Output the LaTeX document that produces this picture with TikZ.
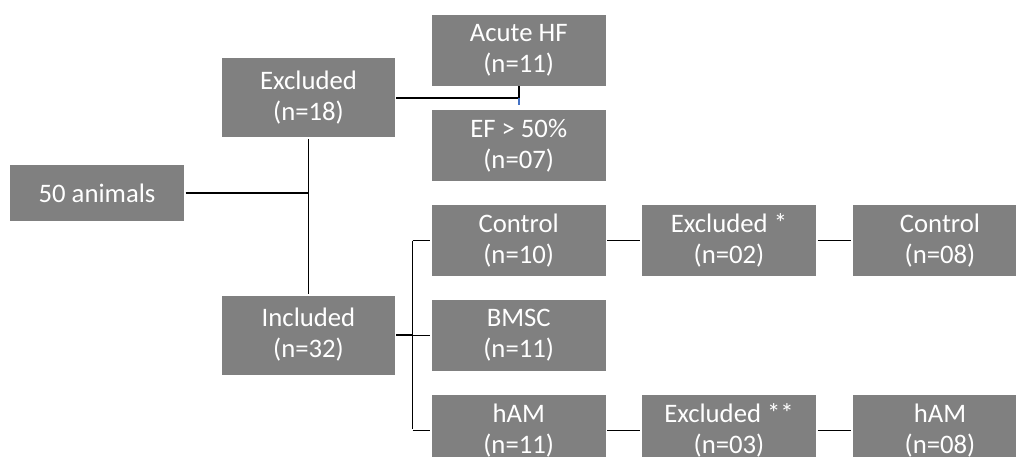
\documentclass[tikz,border=0pt]{standalone}
\usepackage{fontspec}
\setmainfont{Carlito}
\usepackage{tikz}
\usetikzlibrary{calc}
\definecolor{boxGray}{HTML}{808080}
\definecolor{lineBlue}{HTML}{4472C4}

\begin{document}
\begin{tikzpicture}[x=0.025cm,y=-0.025cm,
  groupBox/.style={fill=boxGray,text=white,align=center,inner sep=0pt,
    minimum width=4.35cm,minimum height=1.775cm,
    font=\fontsize{19}{22}\selectfont},
  mainBox/.style={groupBox,minimum width=4.3cm,minimum height=1.975cm},
  link/.style={line width=1.2pt,black,shorten <=1pt,shorten >=1pt}]
\clip (0,0) rectangle (1016,456);
\node[groupBox,minimum height=1.4cm] (animals) at (97,193) {50 animals};
\node[mainBox] (excl) at (308.5,97.7) {Excluded\\(n=18)};
\node[mainBox] (incl) at (308.5,335) {Included\\(n=32)};
\node[groupBox] (acute) at (518.7,50.5) {Acute HF\\(n=11)};
\node[groupBox] (ef) at (518.7,145.5) {EF > 50\%\\(n=07)};
\node[groupBox] (control) at (518.7,240.5) {Control\\(n=10)};
\node[groupBox] (bmsc) at (518.7,335.5) {BMSC\\(n=11)};
\node[groupBox] (ham) at (518.7,430.5) {hAM\\(n=11)};
\node[groupBox] (exclA) at (729,240.5) {Excluded *\\(n=02)};
\node[groupBox] (exclB) at (729,430.5) {Excluded **\\(n=03)};
\node[groupBox] (controlEnd) at (940,240.5) {Control\\(n=08)};
\node[groupBox] (hamEnd) at (940,430.5) {hAM\\(n=08)};
\coordinate (split) at (excl.east -| acute.south);
\coordinate (fork) at (412.5,335);
\draw[link] (excl.south) -- (incl.north);
\draw[link,shorten >=0pt] (animals.east) -- (animals.east -| excl.south);
\draw[link,shorten >=0pt] (excl.east) -- (split) -- (acute.south);
\draw[lineBlue,line width=1.2pt,shorten >=3pt] (split) -- (ef.north);
\draw[link,shorten >=0pt] (incl.east) -- (fork);
\draw[link,shorten <=0pt] (fork |- control.west) -- (fork |- ham.west);
\foreach \grp in {control,bmsc,ham}{
  \draw[link,shorten <=0pt] (fork |- \grp.west) -- (\grp.west);
}
\draw[link] (control) -- (exclA);
\draw[link] (exclA) -- (controlEnd);
\draw[link] (ham) -- (exclB);
\draw[link] (exclB) -- (hamEnd);
\end{tikzpicture}
\end{document}
